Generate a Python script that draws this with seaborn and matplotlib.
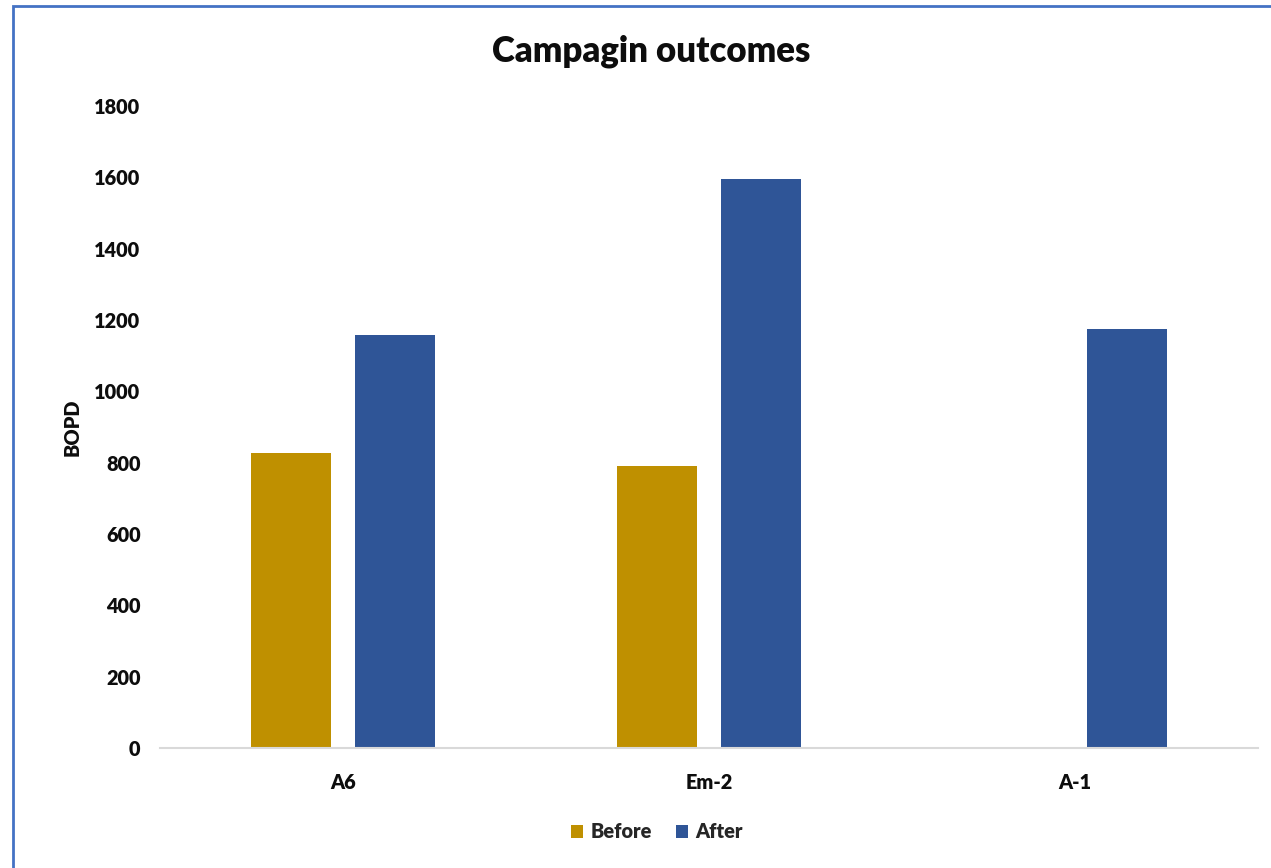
import matplotlib
matplotlib.use("Agg")
import matplotlib.pyplot as plt
import seaborn as sns
import pandas as pd
from matplotlib.patches import Rectangle, Patch

categories = ["A6", "Em-2", "A-1"]
before = [828, 792, 0]
after = [1158, 1596, 1176]
series_names = ["Before", "After"]
yticks = [0, 200, 400, 600, 800, 1000, 1200, 1400, 1600, 1800]

df = pd.DataFrame({
    "Well": categories * 2,
    "BOPD": before + after,
    "Period": [series_names[0]] * len(categories) + [series_names[1]] * len(categories),
})

sns.set_theme(style="white")
plt.rcParams["font.family"] = ["Lato", "DejaVu Sans"]

W, H = 1271, 868
fig = plt.figure(figsize=(W / 100, H / 100), dpi=100)
ax = fig.add_axes([160 / W, (H - 748) / H, (1258 - 160) / W, (748 - 106) / H])

palette = {"Before": "#BF9000", "After": "#2F5597"}
sns.barplot(data=df, x="Well", y="BOPD", hue="Period", order=categories,
            hue_order=series_names, palette=palette, width=0.571, gap=0.23,
            linewidth=0, saturation=1, ax=ax, legend=False)

FW = "heavy"
TC = "#0D0D0D"
ax.set_ylim(0, 1800)
ax.set_yticks(yticks)
ax.set_yticklabels([str(v) for v in yticks], fontsize=14.3, fontweight=FW, color=TC)
ax.set_xticklabels(categories, fontsize=14.3, fontweight=FW, color=TC)
ax.tick_params(axis="y", length=0, pad=14)
ax.tick_params(axis="x", length=0, pad=18)
for s in ["left", "right", "top"]:
    ax.spines[s].set_visible(False)
ax.spines["bottom"].set_color("#D9D9D9")
ax.spines["bottom"].set_linewidth(1.5)
ax.set_xlabel("")
ax.set_ylabel("BOPD", fontsize=14.3, fontweight=FW, color=TC, labelpad=9)
ax.grid(False)

fig.text(651 / W, 1 - 51 / H, "Campagin outcomes", ha="center", va="center",
         fontsize=25, fontweight=FW, color=TC)

handles = [Patch(facecolor=palette[n], edgecolor="none", label=n) for n in series_names]
fig.legend(handles=handles, loc="center", bbox_to_anchor=(657 / W, 1 - 832 / H), ncol=2,
           frameon=False, prop={"size": 14.3, "weight": FW}, handlelength=0.6,
           handleheight=0.6, handletextpad=0.4, columnspacing=1.2)

fig.patches.append(Rectangle((13 / W, -0.1), 1.2, 1 - 6 / H + 0.1, transform=fig.transFigure,
                             fill=False, edgecolor="#4472C4", linewidth=2, zorder=10))

fig.savefig("out.png", dpi=100)
